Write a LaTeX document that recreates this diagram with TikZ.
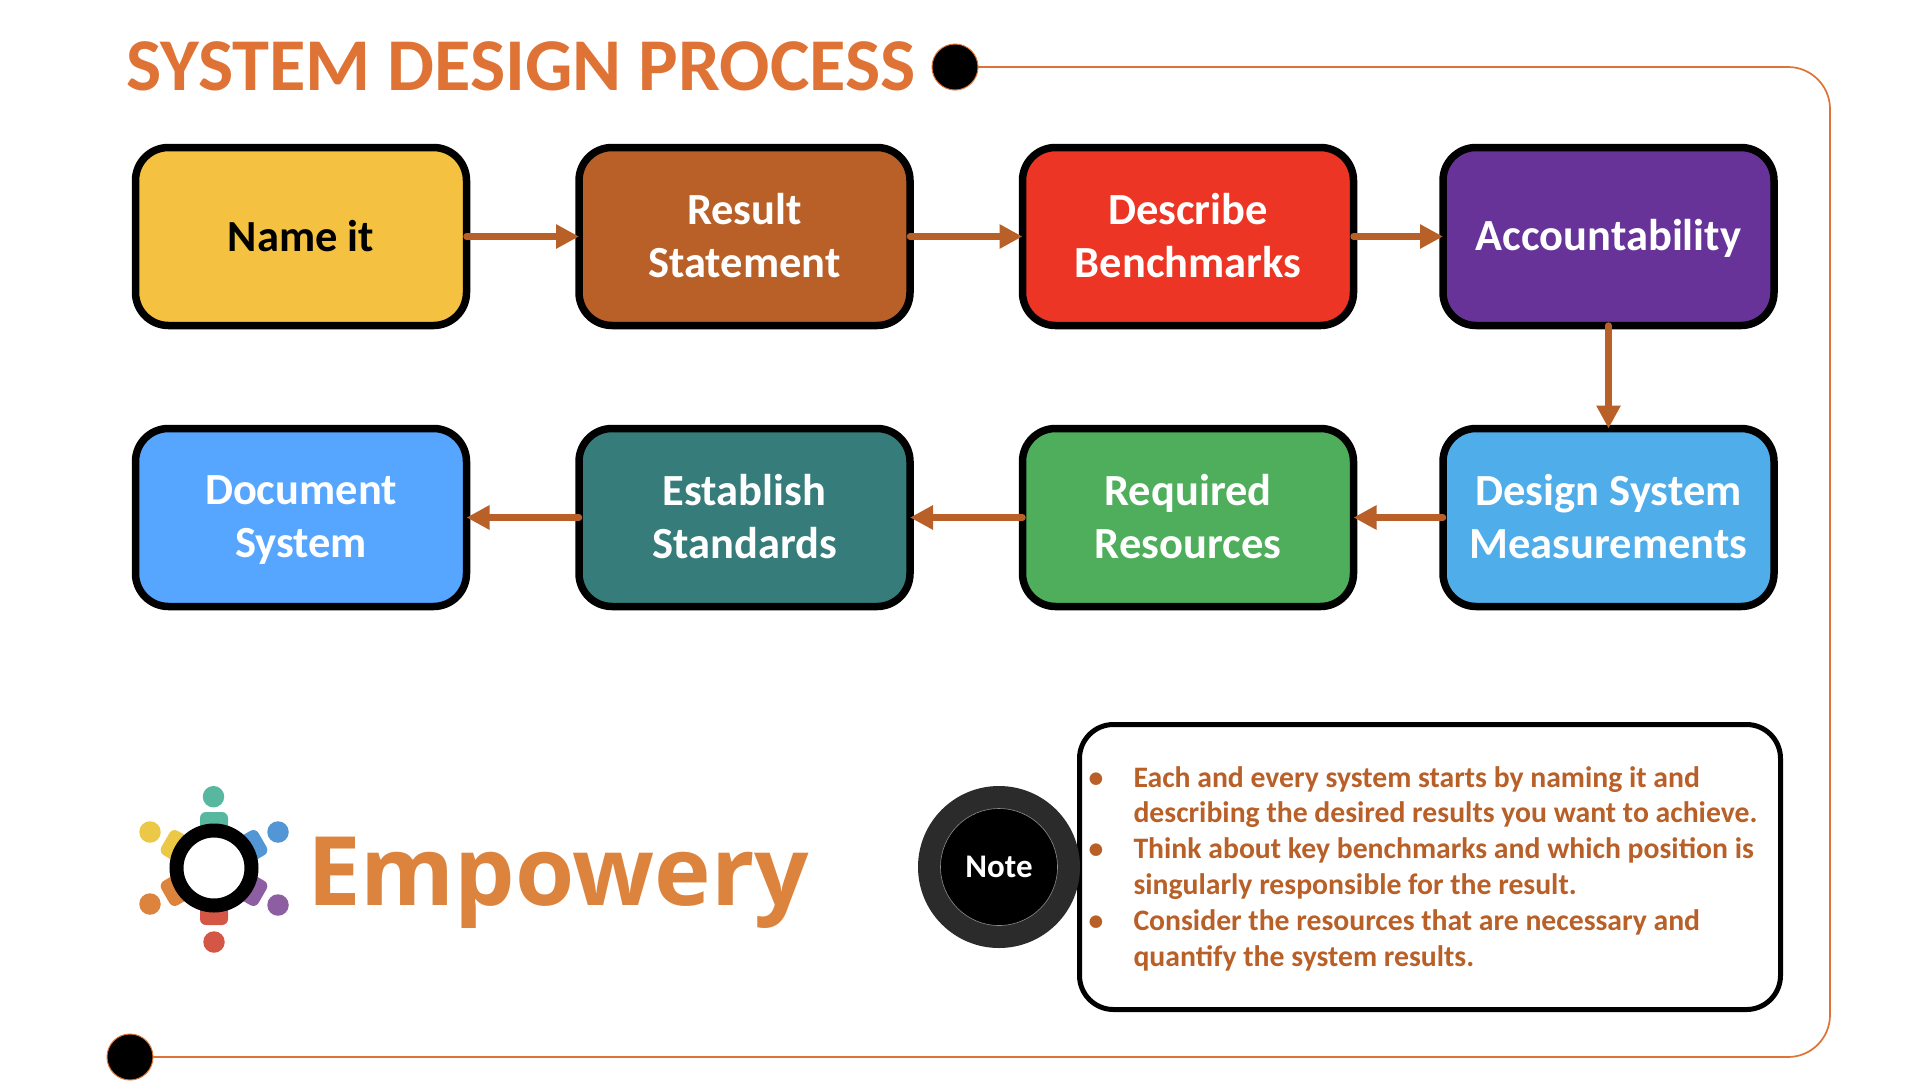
\documentclass[tikz,border=0pt]{standalone}
\usepackage{fontspec}
\setmainfont{Carlito}
\newfontfamily\logofont{Open Sans}
\usetikzlibrary{arrows.meta}
\definecolor{cTitle}{HTML}{DF7335}
\definecolor{cArrow}{HTML}{B86028}
\definecolor{cLogo}{HTML}{DC843D}
\definecolor{cYellow}{HTML}{F4C240}
\definecolor{cBrown}{HTML}{B86028}
\definecolor{cRed}{HTML}{EC3524}
\definecolor{cPurple}{HTML}{673399}
\definecolor{cSky}{HTML}{4FADEA}
\definecolor{cGreen}{HTML}{4FAE5B}
\definecolor{cTeal}{HTML}{367C7B}
\definecolor{cBlue}{HTML}{56A5FF}
\definecolor{lGreen}{HTML}{58B79F}
\definecolor{lBlue}{HTML}{5296D5}
\definecolor{lPurple}{HTML}{8E5EA2}
\definecolor{lRed}{HTML}{D45745}
\definecolor{lOrange}{HTML}{DC843D}
\definecolor{lYellow}{HTML}{EBC845}
\newcommand{\lstr}{\rule[-5pt]{0pt}{39pt}}
\tikzset{
  x=1pt,y=-1pt,
  every node/.style={outer sep=0pt,inner sep=0pt},
  procbox/.style={draw=black,line width=7.5pt,rounded corners=33pt,minimum width=331pt,minimum height=178pt,text=white,align=center,font=\fontsize{44.5}{53}\selectfont\bfseries},
  flow/.style={draw=cArrow,line width=6.5pt,line cap=round,-{Triangle[length=23pt,width=23pt]}},
  framedot/.style={circle,fill=black,draw=cTitle,line width=1pt,minimum size=46pt},
  frameline/.style={draw=cTitle,line width=1.7pt,rounded corners=42pt},
  ldot/.style={circle,minimum size=21.5pt},
  lbody/.style={rounded corners=6pt,minimum size=28pt},
}
\begin{document}
\begin{tikzpicture}
\useasboundingbox (0,0) rectangle (1920,1080);
\fill[white] (0,0) rectangle (1920,1080);
% frame
\node[framedot] (titledot) at (955,67) {};
\node[framedot] (botdot) at (130,1057) {};
\coordinate (frameTR) at (1830,67);
\coordinate (frameBR) at (1830,1057);
\draw[frameline] (titledot.east) -- (frameTR) -- (frameBR) -- (botdot.east);
\node[anchor=base west,text=cTitle,font=\fontsize{74.5}{74.5}\selectfont\bfseries] (title) at (126.5,90) {SYSTEM DESIGN PROCESS};
% process
\node[procbox,fill=cYellow,text=black] (n1) at (301,236.5) {\lstr Name it};
\node[procbox,fill=cBrown] (n2) at (744.5,236.5) {\lstr Result\\\lstr Statement};
\node[procbox,fill=cRed] (n3) at (1188,236.5) {\lstr Describe\\\lstr Benchmarks};
\node[procbox,fill=cPurple] (n4) at (1608.5,236.5) {\lstr Accountability};
\node[procbox,fill=cSky] (n5) at (1608.5,517.5) {\lstr Design System\\\lstr Measurements};
\node[procbox,fill=cGreen] (n6) at (1188,517.5) {\lstr Required\\\lstr Resources};
\node[procbox,fill=cTeal] (n7) at (744.5,517.5) {\lstr Establish\\\lstr Standards};
\node[procbox,fill=cBlue] (n8) at (301,517.5) {\lstr Document\\\lstr System};
\draw[flow] (n1) -- (n2);
\draw[flow] (n2) -- (n3);
\draw[flow] (n3) -- (n4);
\draw[flow] (n4) -- (n5);
\draw[flow] (n5) -- (n6);
\draw[flow] (n6) -- (n7);
\draw[flow] (n7) -- (n8);
% logo
\node[lbody,fill=lGreen,rotate=0] (bg) at (214,826) {};
\node[lbody,fill=lBlue,rotate=-60] (bb) at (250.4,847) {};
\node[lbody,fill=lPurple,rotate=-120] (bp) at (250.4,889) {};
\node[lbody,fill=lRed,rotate=180] (br) at (214,911) {};
\node[lbody,fill=lOrange,rotate=120] (bo) at (177.6,889) {};
\node[lbody,fill=lYellow,rotate=60] (by) at (177.6,847) {};
\node[ldot,fill=lGreen] (dg) at (213.5,796.7) {};
\node[ldot,fill=lBlue] (db) at (278,832) {};
\node[ldot,fill=lPurple] (dp) at (278,905) {};
\node[ldot,fill=lRed] (dr) at (214,942) {};
\node[ldot,fill=lOrange] (do) at (150,904) {};
\node[ldot,fill=lYellow] (dy) at (150,832) {};
\node[circle,draw=black,fill=white,line width=14pt,minimum size=75pt] (ring) at (214,868) {};
\node[anchor=base west,text=cLogo,font=\logofont\fontsize{95.8}{95.8}\selectfont\bfseries] (brand) at (307,905) {Empowery};
% note
\node[draw=black,fill=white,line width=5pt,rounded corners=34pt,minimum width=701pt,minimum height=285pt] (notebox) at (1430,867) {};
\node[circle,fill=black!83,minimum size=162pt] (noteouter) at (999,867) {};
\node[circle,fill=black,draw=black!45,line width=.6pt,minimum size=117pt,text=white,font=\fontsize{33}{33}\selectfont\bfseries] (note) at (999,867) {Note};
\node[anchor=base west,align=left,text=cArrow,font=\fontsize{29.7}{35.8}\selectfont\bfseries] (notetext) at (1133.5,966) {%
\llap{\textbullet\hspace{30pt}}Each and every system starts by naming it and\\
describing the desired results you want to achieve.\\
\llap{\textbullet\hspace{30pt}}Think about key benchmarks and which position is\\
singularly responsible for the result.\\
\llap{\textbullet\hspace{30pt}}Consider the resources that are necessary and\\
quantify the system results.};
\end{tikzpicture}
\end{document}
